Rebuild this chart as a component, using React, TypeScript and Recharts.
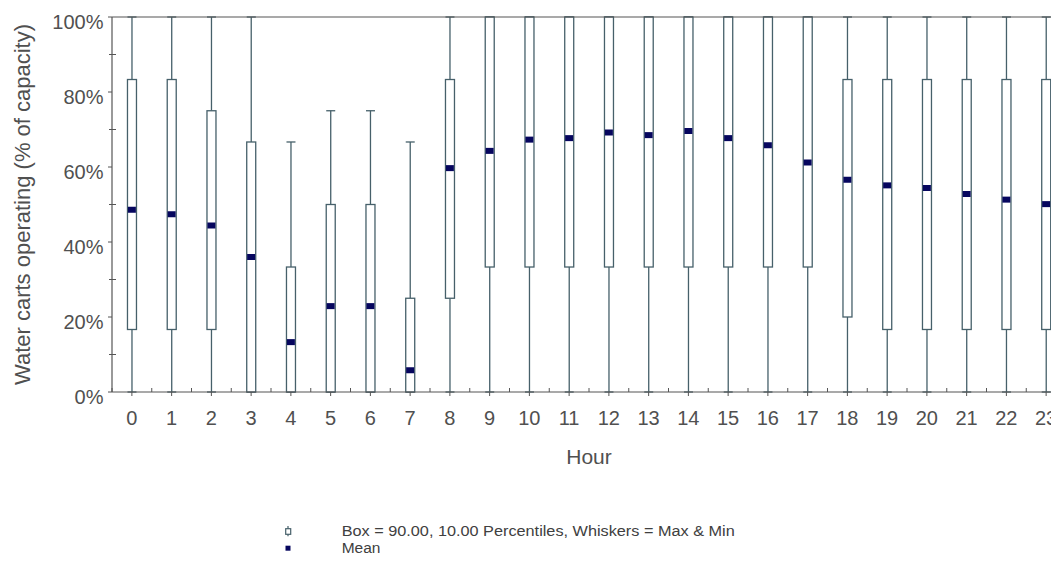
import React from 'react';
import { ComposedChart, Bar, Scatter, XAxis, YAxis, ReferenceLine, Legend } from 'recharts';

const hours = ['0', '1', '2', '3', '4', '5', '6', '7', '8', '9', '10', '11', '12', '13', '14', '15', '16', '17', '18', '19', '20', '21', '22', '23'];
const minValues = [0, 0, 0, 0, 0, 0, 0, 0, 0, 0, 0, 0, 0, 0, 0, 0, 0, 0, 0, 0, 0, 0, 0, 0];
const p10Values = [16.67, 16.67, 16.67, 0, 0, 0, 0, 0, 25, 33.33, 33.33, 33.33, 33.33, 33.33, 33.33, 33.33, 33.33, 33.33, 20, 16.67, 16.67, 16.67, 16.67, 16.67];
const p90Values = [83.33, 83.33, 75, 66.67, 33.33, 50, 50, 25, 83.33, 100, 100, 100, 100, 100, 100, 100, 100, 100, 83.33, 83.33, 83.33, 83.33, 83.33, 83.33];
const maxValues = [100, 100, 100, 100, 66.67, 75, 75, 66.67, 100, 100, 100, 100, 100, 100, 100, 100, 100, 100, 100, 100, 100, 100, 100, 100];
const meanValues = [48.6, 47.4, 44.4, 36.0, 13.3, 22.9, 22.9, 5.8, 59.7, 64.3, 67.3, 67.7, 69.2, 68.5, 69.6, 67.7, 65.8, 61.2, 56.6, 55.1, 54.4, 52.8, 51.3, 50.1];
const yTicks = [0, 10, 20, 30, 40, 50, 60, 70, 80, 90, 100];

const data = hours.map((h, i) => ({
  hour: h,
  min: minValues[i],
  p10: p10Values[i],
  p90: p90Values[i],
  max: maxValues[i],
  mean: meanValues[i],
  range: [minValues[i], maxValues[i]],
}));

const FONT = '"Liberation Sans", Arial, sans-serif';
const AXIS = '#555555';
const BOX = '#46606a';
const MEAN = '#06065e';
const TEXT = '#505050';

function BoxShape(props: any) {
  const { x, y, width, height, payload } = props;
  if (x == null || y == null) return null;
  const top = Math.min(y, y + height);
  const h = Math.abs(height);
  const span = payload.max - payload.min;
  const toY = (v: number) => top + ((payload.max - v) / span) * h;
  const cx = x + width / 2;
  const bw = 9;
  const yMax = toY(payload.max);
  const yMin = toY(payload.min);
  const y90 = toY(payload.p90);
  const y10 = toY(payload.p10);
  return (
    <g>
      <line x1={cx} x2={cx} y1={yMax} y2={y90} stroke={BOX} strokeWidth={1.3} />
      <line x1={cx} x2={cx} y1={y10} y2={yMin} stroke={BOX} strokeWidth={1.3} />
      <line x1={cx - bw / 2} x2={cx + bw / 2} y1={yMax} y2={yMax} stroke={BOX} strokeWidth={1.3} />
      <line x1={cx - bw / 2} x2={cx + bw / 2} y1={yMin} y2={yMin} stroke={BOX} strokeWidth={1.3} />
      <rect x={cx - bw / 2} y={y90} width={bw} height={y10 - y90} fill="#ffffff" stroke={BOX} strokeWidth={1.3} />
    </g>
  );
}

function MeanShape(props: any) {
  const { cx, cy } = props;
  if (cx == null || cy == null) return null;
  return <rect x={cx - 4} y={cy - 3} width={8} height={6} fill={MEAN} />;
}

function XTick(props: any) {
  const { x, y, payload } = props;
  const axisY = y - 8;
  const half = payload && payload.offset ? payload.offset : 19.87;
  return (
    <g>
      <line x1={x} x2={x} y1={axisY} y2={axisY + 4} stroke={AXIS} />
      <line x1={x - half} x2={x - half} y1={axisY - 4} y2={axisY} stroke={AXIS} />
      <text x={x} y={axisY + 33.3} textAnchor="middle" fontSize={20} fill={TEXT} fontFamily={FONT}>
        {payload.value}
      </text>
    </g>
  );
}

function YTick(props: any) {
  const { x, y, payload } = props;
  const axisX = x + 8;
  const major = payload.value % 20 === 0;
  return (
    <g>
      {major ? (
        <line x1={axisX - 4} x2={axisX} y1={y} y2={y} stroke={AXIS} />
      ) : (
        <line x1={axisX - 3} x2={axisX + 4} y1={y} y2={y} stroke={AXIS} />
      )}
      {major && (
        <text x={axisX - 8.5} y={y + 11.5} textAnchor="end" fontSize={20} fill={TEXT} fontFamily={FONT}>
          {`${payload.value}%`}
        </text>
      )}
    </g>
  );
}

function LegendContent() {
  return (
    <svg width={520} height={44} style={{ display: 'block' }}>
      <line x1={8} x2={8} y1={4} y2={14.3} stroke={BOX} strokeWidth={1.2} />
      <rect x={5.7} y={6.7} width={5} height={5.6} fill="#ffffff" stroke={BOX} strokeWidth={1.2} />
      <text x={61.7} y={14} fontSize={15.5} fill="#404040" fontFamily={FONT} textLength={393} lengthAdjust="spacingAndGlyphs">
        Box = 90.00, 10.00 Percentiles, Whiskers = Max &amp; Min
      </text>
      <rect x={5.5} y={23.7} width={5} height={5} fill={MEAN} />
      <text x={61.7} y={30.5} fontSize={15.5} fill="#404040" fontFamily={FONT}>
        Mean
      </text>
    </svg>
  );
}

export default function App() {
  return (
    <div style={{ width: 1051, height: 555, overflow: 'hidden' }}>
      <ComposedChart width={1070} height={555} data={data} margin={{ top: 9, right: 12, left: 4, bottom: 91 }}>
        <XAxis
          dataKey="hour"
          interval={0}
          height={40}
          tickLine={false}
          axisLine={{ stroke: AXIS, strokeWidth: 1.2 }}
          tick={<XTick />}
          label={(p: any) => {
            const vb = p.viewBox || {};
            return (
              <text x={vb.x + vb.width / 2} y={vb.y + 71.5} textAnchor="middle" fontSize={21} fill={TEXT} fontFamily={FONT}>
                Hour
              </text>
            );
          }}
        />
        <YAxis
          type="number"
          domain={[0, 100]}
          ticks={yTicks}
          interval={0}
          width={100}
          tickLine={false}
          axisLine={{ stroke: AXIS, strokeWidth: 1.2 }}
          tick={<YTick />}
          label={(p: any) => {
            const vb = p.viewBox || {};
            const cx = vb.x + 10;
            const cy = vb.y + vb.height / 2;
            return (
              <text
                x={cx}
                y={cy}
                transform={`rotate(-90 ${cx} ${cy})`}
                textAnchor="middle"
                dominantBaseline="central"
                fontSize={22}
                fill={TEXT}
                fontFamily={FONT}
              >
                Water carts operating (% of capacity)
              </text>
            );
          }}
        />
        <ReferenceLine y={100} stroke={AXIS} strokeWidth={1.2} />
        <Bar dataKey="range" shape={<BoxShape />} isAnimationActive={false} />
        <Scatter dataKey="mean" shape={<MeanShape />} isAnimationActive={false} />
        <Legend
          verticalAlign="bottom"
          content={() => <LegendContent />}
          wrapperStyle={{ left: 272, top: 514, width: 520, height: 40 }}
        />
      </ComposedChart>
    </div>
  );
}
